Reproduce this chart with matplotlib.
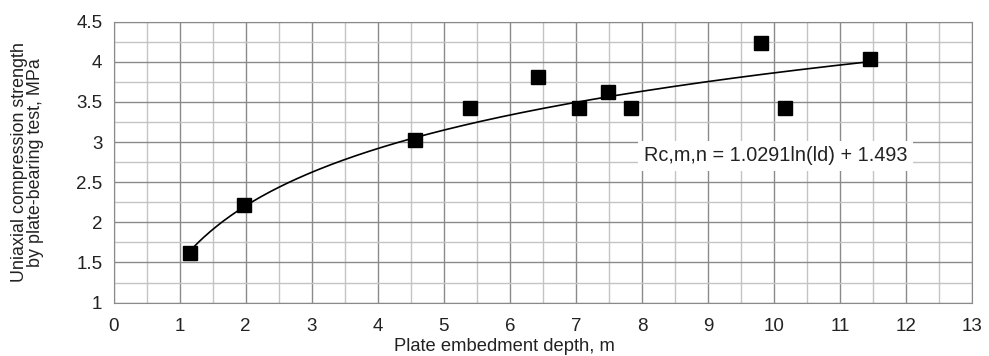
import numpy as np
import matplotlib
matplotlib.use("Agg")
import matplotlib.pyplot as plt
from matplotlib.ticker import MultipleLocator

plt.rcParams['font.family'] = ['Liberation Sans', 'DejaVu Sans']

depth = [1.16, 1.98, 4.57, 5.39, 6.43, 7.05, 7.49, 7.84, 9.81, 10.16, 11.45]
strength = [1.62, 2.22, 3.02, 3.42, 3.81, 3.42, 3.63, 3.42, 4.24, 3.42, 4.03]
coef_a = 1.0291
coef_b = 1.493
equation = "Rc,m,n = 1.0291ln(ld) + 1.493"
xlabel = "Plate embedment depth, m"
ylabel = "Uniaxial compression strength\nby plate-bearing test, MPa"

fig = plt.figure(figsize=(9.89, 3.56), dpi=100)
ax = fig.add_axes([0.1148, 0.150, 0.8682, 0.789])

ax.set_xlim(0, 13)
ax.set_ylim(1, 4.5)
ax.xaxis.set_major_locator(MultipleLocator(1))
ax.xaxis.set_minor_locator(MultipleLocator(0.5))
ax.yaxis.set_major_locator(MultipleLocator(0.5))
ax.yaxis.set_minor_locator(MultipleLocator(0.25))
ax.grid(which='major', color='#8a8a8a', linewidth=1.0)
ax.grid(which='minor', color='#c4c4c4', linewidth=1.0)
ax.set_axisbelow(True)
for s in ax.spines.values():
    s.set_color('#8a8a8a')
ax.tick_params(which='both', length=0, labelsize=13.5, colors='#222222')
ax.tick_params(axis='x', pad=11)
ax.tick_params(axis='y', pad=8)
ax.set_yticks(np.arange(1, 4.51, 0.5))
ax.set_yticklabels(['1', '1.5', '2', '2.5', '3', '3.5', '4', '4.5'])

xs = np.linspace(min(depth), max(depth), 300)
ax.plot(xs, coef_a * np.log(xs) + coef_b, color='black', linewidth=1.2, zorder=3)
ax.plot(depth, strength, linestyle='none', marker='s', markersize=10,
        color='black', zorder=4)

ax.text(8.03, 2.83, equation, fontsize=14.3, color='#222222', va='center', ha='left',
        bbox=dict(facecolor='white', edgecolor='none', pad=4), zorder=5)

ax.set_xlabel(xlabel, fontsize=13.2, color='#222222')
ax.xaxis.set_label_coords(0.455, -0.125)
ax.set_ylabel(ylabel, fontsize=12.9, color='#222222', linespacing=0.92)
ax.yaxis.set_label_coords(-0.081, 0.5)

fig.savefig('out.png', dpi=100)
